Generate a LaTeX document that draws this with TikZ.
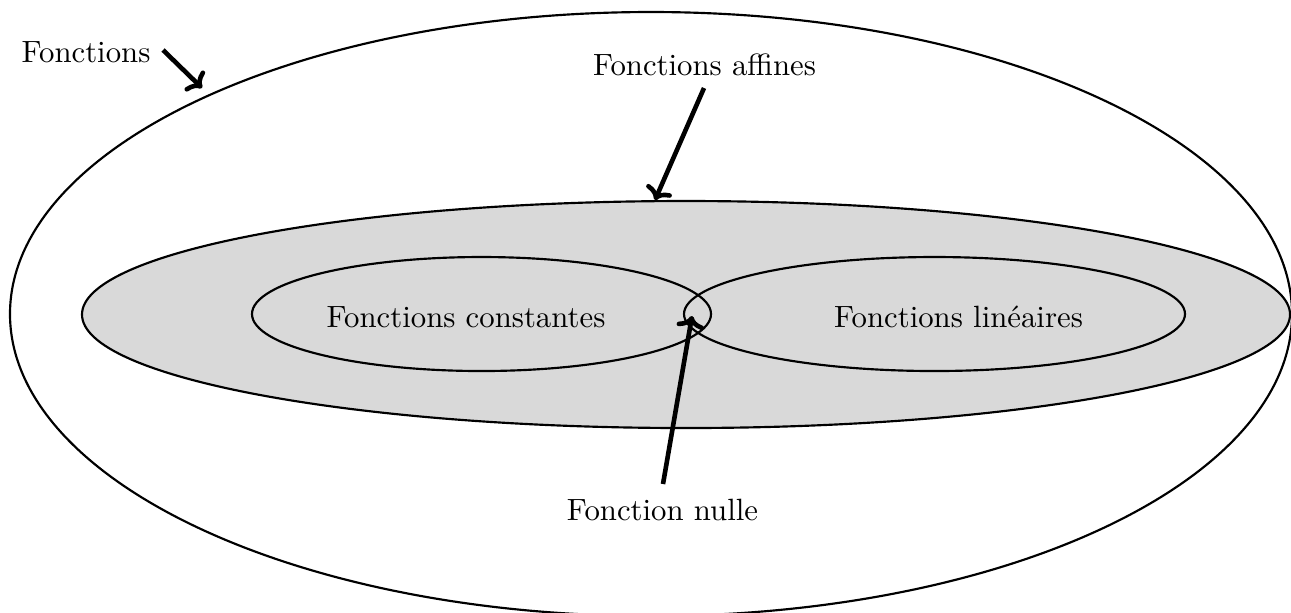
\documentclass[tikz,border=0pt]{standalone}
\usetikzlibrary{arrows.meta}
\begin{document}
\begin{tikzpicture}[x=0.325pt,y=-0.325pt,
  setline/.style={line width=0.7pt},
  ptr/.style={line width=1.5pt,-{To[length=4pt,width=9pt]}},
  lbl/.style={anchor=base,inner sep=0pt}]
\useasboundingbox (0,0) rectangle (1291,612);
% sets
\draw[setline] (651,314) ellipse [x radius=641,y radius=302];
\draw[setline,fill=gray!30] (686,314.5) ellipse [x radius=604,y radius=113.5];
\draw[setline] (481.5,314) ellipse [x radius=229.5,y radius=57];
\draw[setline] (934.5,314) ellipse [x radius=250.5,y radius=57];
% labels
\node[lbl] (fct) at (86,62) {Fonctions};
\node[lbl] (aff) at (704.5,75) {Fonctions affines};
\node[lbl] (cst) at (466,327) {Fonctions constantes};
\node[lbl] (lin) at (958.5,327) {Fonctions linéaires};
\node[lbl] (nul) at (662.5,520) {Fonction nulle};
% arrow ends
\coordinate (fctS) at (163,50);
\coordinate (fctE) at (202,88);
\coordinate (affS) at (704,88);
\coordinate (affE) at (655,200);
\coordinate (nulS) at (663,484);
\coordinate (nulE) at (692,316);
\draw[ptr] (fctS) -- (fctE);
\draw[ptr] (affS) -- (affE);
\draw[ptr] (nulS) -- (nulE);
\end{tikzpicture}
\end{document}
